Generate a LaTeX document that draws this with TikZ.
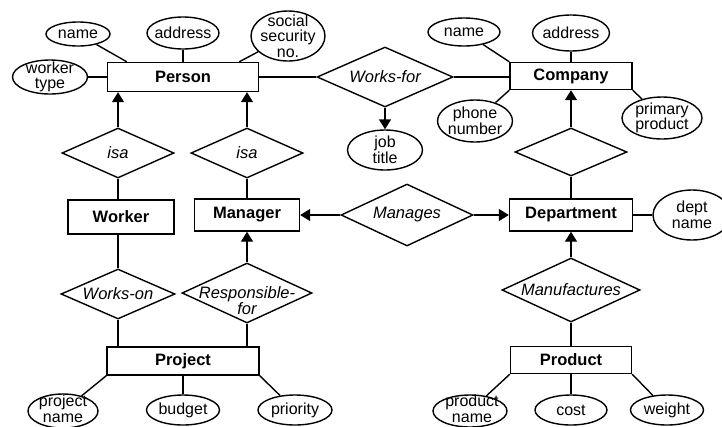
\documentclass[tikz,border=0pt]{standalone}
\usepackage{fontspec}
\setmainfont{Liberation Sans}
\usetikzlibrary{shapes.geometric,arrows.meta,calc}
\begin{document}
\begin{tikzpicture}[x=1pt,y=-1pt,
  line width=1.4pt,
  every node/.style={font=\fontsize{16.5}{16}\selectfont},
  ent/.style={draw, rectangle, inner sep=0pt, font=\fontsize{16.5}{16}\selectfont\bfseries},
  rel/.style={draw, diamond, inner sep=0pt},
  attr/.style={draw, ellipse, inner sep=0pt},
  txt/.style={align=center, inner sep=0pt, font=\fontsize{16}{15.5}\selectfont},
  rtxt/.style={align=center, inner sep=0pt, font=\fontsize{16.5}{16}\selectfont\itshape},
  arr/.style={-{Triangle[length=10pt,width=12pt]}}
]
\useasboundingbox (0,0) rectangle (722,426);

% entities
\node[ent, minimum width=151pt, minimum height=29pt] (P) at (183,77) {Person};
\node[ent, minimum width=122pt, minimum height=27pt] (C) at (571,76) {Company};
\node[ent, minimum width=106pt, minimum height=34pt] (W) at (121,217) {Worker};
\node[ent, minimum width=105pt, minimum height=32pt] (M) at (247,215) {Manager};
\node[ent, minimum width=123pt, minimum height=32pt] (D) at (571,215) {Department};
\node[ent, minimum width=152pt, minimum height=28pt] (J) at (183,361) {Project};
\node[ent, minimum width=121pt, minimum height=27pt] (R) at (571,360) {Product};

% relationships
\node[rel, minimum width=136pt, minimum height=60pt] (wf) at (385,77) {};
\node[rtxt] (wft) at (wf) {Works-for};
\node[rel, minimum width=112pt, minimum height=50pt] (isa1) at (118,153) {};
\node[rtxt] (isa1t) at (isa1) {isa};
\node[rel, minimum width=112pt, minimum height=50pt] (isa2) at (247,153) {};
\node[rtxt] (isa2t) at (isa2) {isa};
\node[rel, minimum width=112pt, minimum height=48pt] (cisa) at (571,152) {};
\node[rel, minimum width=132pt, minimum height=62pt] (mg) at (407,215) {};
\node[rtxt] (mgt) at (mg) {Manages};
\node[rel, minimum width=114pt, minimum height=50pt] (wo) at (118,294) {};
\node[rtxt] (wot) at (wo) {Works-on};
\node[rel, minimum width=130pt, minimum height=60pt] (rf) at (247,293) {};
\node[rtxt] (rft) at (247,301) {Responsible-\\for};
\node[rel, minimum width=138pt, minimum height=64pt] (mf) at (571,290) {};
\node[rtxt] (mft) at (mf) {Manufactures};

% attributes
\node[attr, minimum width=64pt, minimum height=24pt] (pn) at (78,34) {};
\node[txt] (pnt) at (pn) {name};
\node[attr, minimum width=72pt, minimum height=32pt] (pa) at (183,33) {};
\node[txt] (pat) at (pa) {address};
\node[attr, minimum width=74pt, minimum height=50pt] (ps) at (288,36) {};
\node[txt] (pst) at (ps) {social\\security\\no.};
\node[attr, minimum width=75pt, minimum height=34pt] (pw) at (50,77) {};
\node[txt] (pwt) at (pw) {worker\\type};
\node[attr, minimum width=72pt, minimum height=28pt] (cn) at (464,32) {};
\node[txt] (cnt) at (cn) {name};
\node[attr, minimum width=77pt, minimum height=36pt] (ca) at (571,33) {};
\node[txt] (cat) at (ca) {address};
\node[attr, minimum width=75pt, minimum height=42pt] (cp) at (475,121) {};
\node[txt] (cpt) at (cp) {phone\\number};
\node[attr, minimum width=80pt, minimum height=42pt] (cpp) at (662,118) {};
\node[txt] (cppt) at (cpp) {primary\\product};
\node[attr, minimum width=75pt, minimum height=40pt] (jt) at (385,150) {};
\node[txt] (jtt) at (jt) {job\\title};
\node[attr, minimum width=78pt, minimum height=50pt] (dn) at (692,215) {};
\node[txt] (dnt) at (dn) {dept\\name};
\node[attr, minimum width=70pt, minimum height=34pt] (jpn) at (63,411) {};
\node[txt] (jpnt) at (63,409) {project\\name};
\node[attr, minimum width=73pt, minimum height=30pt] (jb) at (183,410) {};
\node[txt] (jbt) at (jb) {budget};
\node[attr, minimum width=74pt, minimum height=30pt] (jp) at (295,410) {};
\node[txt] (jpt) at (jp) {priority};
\node[attr, minimum width=74pt, minimum height=32pt] (rpn) at (470,411) {};
\node[txt] (rpnt) at (472,409) {product\\name};
\node[attr, minimum width=72pt, minimum height=30pt] (rc) at (571,410) {};
\node[txt] (rct) at (rc) {cost};
\node[attr, minimum width=73pt, minimum height=30pt] (rw) at (667,410) {};
\node[txt] (rwt) at (rw) {weight};

% connectors
\draw (pn) -- ($(P.north west)+(20,0)$);
\draw (pa) -- (P);
\draw (ps) -- ($(P.north east)+(-20,0)$);
\draw (pw) -- (P);
\draw (P) -- (wf);
\draw (wf) -- (C.west |- wf);
\draw (cn) -- (C.north west);
\draw (ca) -- (C);
\draw (cp) -- (C.south west);
\draw (cpp) -- (C.south east);
\draw[arr] (wf.south) -- (jt);
\draw[arr] (isa1.north) -- (isa1.north |- P.south);
\draw[arr] (isa2.north) -- (isa2.north |- P.south);
\draw (isa1.south) -- (isa1.south |- W.north);
\draw (isa2) -- (M);
\draw[arr] (mg) -- (M);
\draw[arr] (mg) -- (D);
\draw[arr] (cisa) -- (C);
\draw (cisa) -- (D);
\draw (D) -- (dn);
\draw (wo.north) -- (wo.north |- W.south);
\draw[arr] (rf) -- (M);
\draw (wo.south) -- (wo.south |- J.north);
\draw (rf.south) -- (rf.south |- J.north);
\draw[arr] (mf) -- (D);
\draw (mf) -- (R);
\draw (jpn) -- (J.south west);
\draw (jb) -- (J);
\draw (jp) -- (J.south east);
\draw (rpn) -- (R.south west);
\draw (rc) -- (R);
\draw (rw) -- (R.south east);
\end{tikzpicture}
\end{document}
